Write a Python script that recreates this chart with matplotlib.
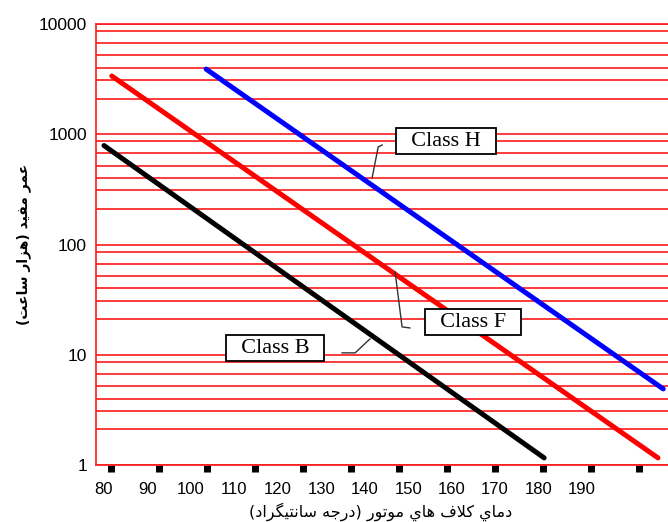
#!/usr/bin/env python3
"""Insulation life vs winding temperature (Class B / F / H), log scale."""

import numpy as np
import matplotlib
matplotlib.use("Agg")
import matplotlib.pyplot as plt
from matplotlib.ticker import LogLocator, NullFormatter

# ---- data ----
temp_ticks = [80, 90, 100, 110, 120, 130, 140, 150, 160, 170, 180, 190]
temp_labels = [str(t) for t in temp_ticks]
life_ticks = [1, 10, 100, 1000, 10000]
life_labels = ["1", "10", "100", "1000", "10000"]

class_b_temp = [80.0, 181.3]
class_b_life = [790.0, 1.16]
class_f_temp = [81.8, 207.5]
class_f_life = [3375.0, 1.16]
class_h_temp = [103.5, 208.7]
class_h_life = [3900.0, 4.9]

ylabel_fa = "عمر مفيد (هزار ساعت)"
xlabel_fa = "دماي كلاف هاي موتور (درجه سانتيگراد)"

# matplotlib does no Arabic shaping, so map letters to presentation forms by hand
FORMS = {  # isolated, final, initial, medial
    "ا": ("\uFE8D", "\uFE8E"),
    "د": ("\uFEA9", "\uFEAA"),
    "ر": ("\uFEAD", "\uFEAE"),
    "ز": ("\uFEAF", "\uFEB0"),
    "و": ("\uFEED", "\uFEEE"),
    "ت": ("\uFE95", "\uFE96", "\uFE97", "\uFE98"),
    "ج": ("\uFE9D", "\uFE9E", "\uFE9F", "\uFEA0"),
    "س": ("\uFEB1", "\uFEB2", "\uFEB3", "\uFEB4"),
    "ع": ("\uFEC9", "\uFECA", "\uFECB", "\uFECC"),
    "ف": ("\uFED1", "\uFED2", "\uFED3", "\uFED4"),
    "ك": ("\uFED9", "\uFEDA", "\uFEDB", "\uFEDC"),
    "ل": ("\uFEDD", "\uFEDE", "\uFEDF", "\uFEE0"),
    "م": ("\uFEE1", "\uFEE2", "\uFEE3", "\uFEE4"),
    "ن": ("\uFEE5", "\uFEE6", "\uFEE7", "\uFEE8"),
    "ه": ("\uFEE9", "\uFEEA", "\uFEEB", "\uFEEC"),
    "ي": ("\uFEF1", "\uFEF2", "\uFEF3", "\uFEF4"),
    "گ": ("\uFB92", "\uFB93", "\uFB94", "\uFB95"),
}
LAM_ALEF = "\x01"


def shape_fa(text: str) -> str:
    chars = list(text.replace("لا", LAM_ALEF))

    def dual(c):
        return c in FORMS and len(FORMS[c]) == 4

    out = []
    for i, c in enumerate(chars):
        prev = chars[i - 1] if i > 0 else " "
        nxt = chars[i + 1] if i + 1 < len(chars) else " "
        p = dual(prev)
        if c == LAM_ALEF:
            out.append("\uFEFC" if p else "\uFEFB")
            continue
        if c not in FORMS:
            out.append(c)
            continue
        f = FORMS[c]
        n = len(f) == 4 and (nxt in FORMS or nxt == LAM_ALEF)
        if p and n:
            out.append(f[3])
        elif p:
            out.append(f[1])
        elif n:
            out.append(f[2])
        else:
            out.append(f[0])
    vis = "".join(reversed(out))
    return vis.translate(str.maketrans("()", ")("))


fig = plt.figure(figsize=(6.68, 5.22), dpi=100)
ax = fig.add_axes([0.1437, 0.1092, 0.8563, 0.8448])

ax.set_yscale("log")
ax.set_xlim(78.16, 209.8)
ax.set_ylim(1, 10000)

ax.plot(class_b_temp, class_b_life, color="black", lw=3.6, solid_capstyle="round", zorder=3)
ax.plot(class_f_temp, class_f_life, color="#ff0000", lw=3.6, solid_capstyle="round", zorder=3)
ax.plot(class_h_temp, class_h_life, color="#0000ff", lw=3.6, solid_capstyle="round", zorder=3)

# red horizontal rules (the original has six per decade, not eight)
ax.yaxis.set_minor_locator(LogLocator(base=10, subs=(2.1, 3.1, 4.0, 5.2, 6.7, 8.6)))
ax.yaxis.set_minor_formatter(NullFormatter())
ax.grid(True, which="both", axis="y", color="#ff1a1a", lw=1.2)
ax.set_axisbelow(True)

ax.set_yticks(life_ticks, labels=life_labels)
ax.tick_params(axis="y", which="both", length=0, pad=6.5, labelsize=12.5)
ax.set_xticks(temp_ticks, labels=temp_labels)
ax.tick_params(axis="x", which="major", length=0, pad=12, labelsize=12)
# square tick marks below the axis (spaced a little wider than the labels)
ax.set_xticks(np.linspace(81.6, 203.1, 12), minor=True)
ax.tick_params(axis="x", which="minor", length=5, width=5, color="black", direction="out")
for lab in ax.get_xticklabels() + ax.get_yticklabels():
    lab.set_family("Liberation Sans")

for side in ["left", "bottom", "top"]:
    ax.spines[side].set_color("#ff1a1a")
    ax.spines[side].set_linewidth(1.2)
ax.spines["right"].set_visible(False)

ax.set_ylabel(shape_fa(ylabel_fa), family="DejaVu Sans", fontweight="bold", fontsize=10)
ax.yaxis.set_label_coords(-0.126, 0.5)
ax.yaxis.label.set_va("center")
ax.set_xlabel(shape_fa(xlabel_fa), family="DejaVu Sans", fontsize=11.5)
ax.xaxis.set_label_coords(0.498, -0.106)
ax.xaxis.label.set_va("center")

# class labels with leader lines
box = dict(boxstyle="square,pad=0.17", fc="white", ec="black", lw=1.3)
labels = [
    ("Class B", 119.4, 11.5, [134.8, 137.8, 141.2], [10.4, 10.4, 13.9]),
    ("Class F", 164.9, 19.8, [147.0, 148.6, 150.4], [56.3, 17.9, 17.5]),
    ("Class H", 158.7, 868.0, [144.0, 143.1, 141.7], [799.0, 766.0, 401.0]),
]
for name, tx, ty, lx, ly in labels:
    ax.plot(lx, ly, color="#333333", lw=1.0, zorder=4)
    ax.text(tx, ty, f"  {name}  ", ha="center", va="center", family="Liberation Serif",
            fontsize=16, bbox=box, zorder=5)

fig.savefig("out.png", dpi=100)
